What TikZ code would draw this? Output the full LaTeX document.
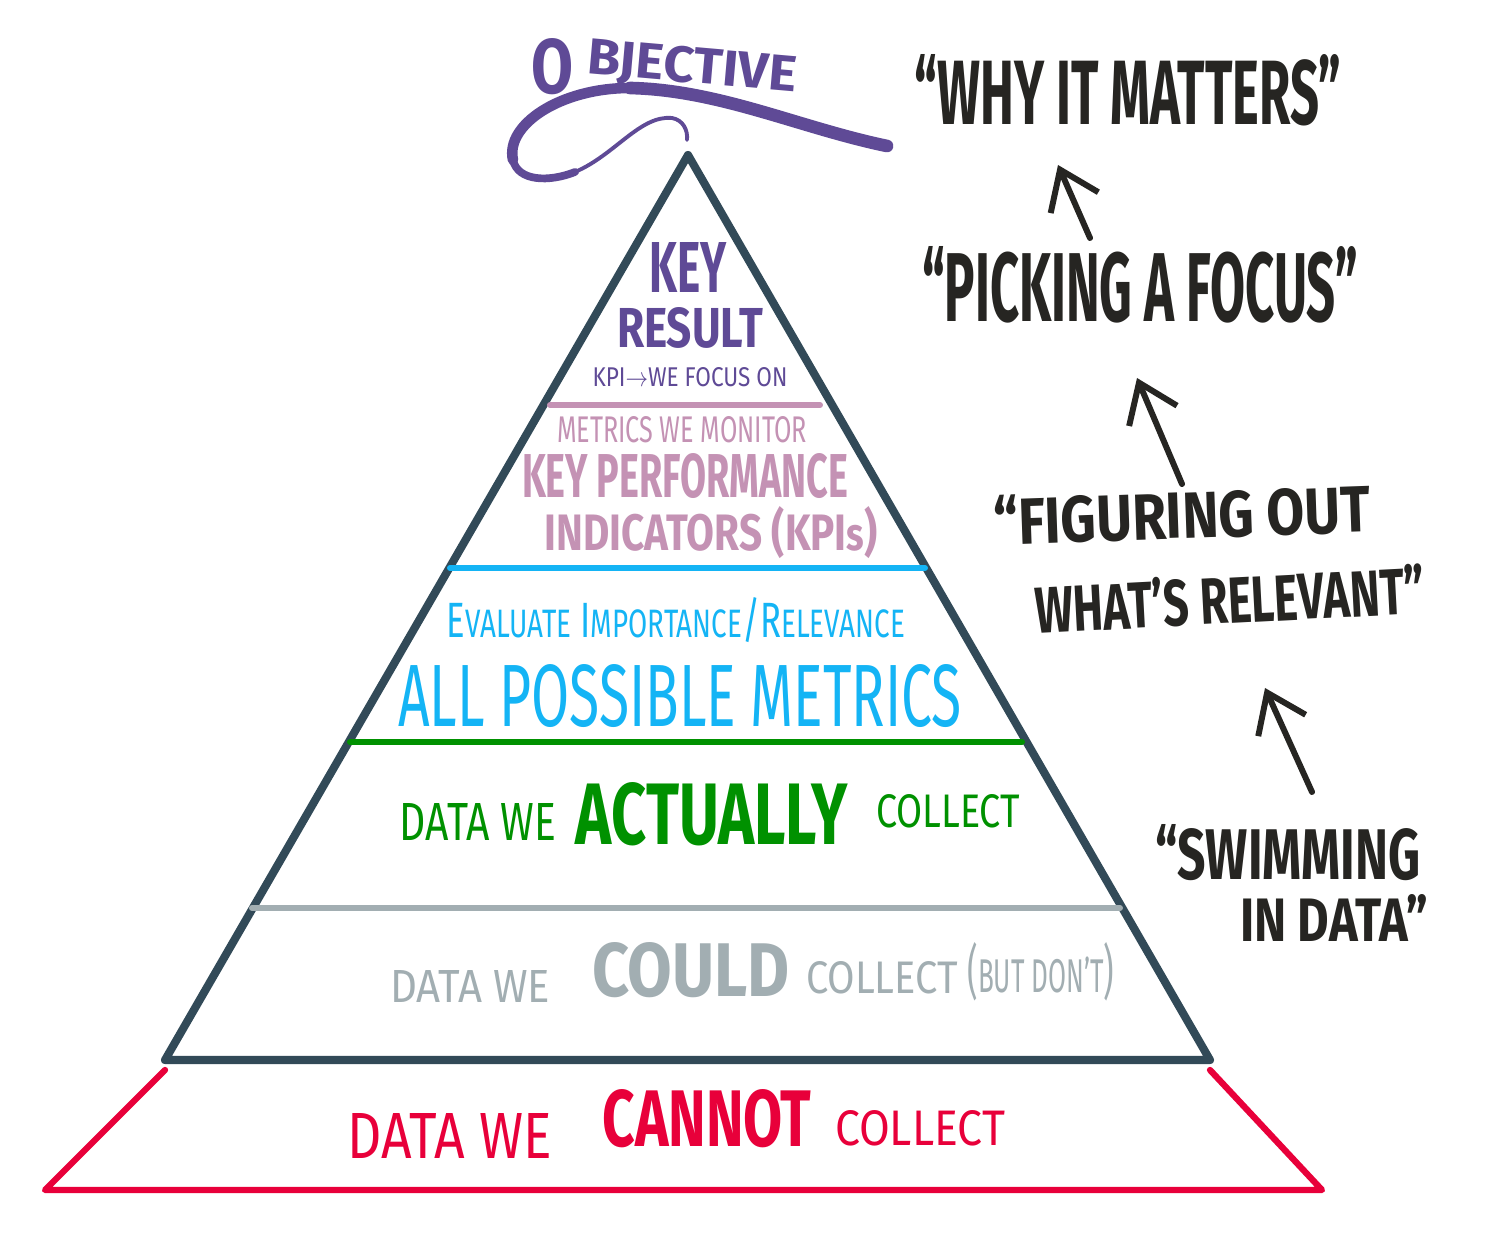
\documentclass[tikz,border=0pt]{standalone}
\usepackage{fontspec}
\setmainfont{Fira Sans}
\usetikzlibrary{arrows.meta}

\definecolor{okrpurple}{RGB}{95,74,150}
\definecolor{kpimauve}{RGB}{196,146,180}
\definecolor{metricblue}{RGB}{20,180,245}
\definecolor{datagreen}{RGB}{0,145,0}
\definecolor{couldgray}{RGB}{162,174,178}
\definecolor{cannotred}{RGB}{232,0,58}
\definecolor{pyrslate}{RGB}{50,74,88}
\definecolor{ink}{RGB}{38,37,34}

\newlength\pxu
\setlength\pxu{0.01cm}
% width, cap height (in px), text
\newcommand\handsz[3]{\resizebox{#1\pxu}{#2\pxu}{#3}}

\begin{document}
\begin{tikzpicture}[x=0.01cm,y=-0.01cm,
	lbl/.style={inner sep=0pt,outer sep=0pt},
	layer/.style={line width=1.7pt,line cap=round},
	note/.style={lbl,text=ink,font=\bfseries},
	upto/.style={ink,line width=1.7pt,line cap=round,line join=round,-{Straight Barb[length=3.6mm,width=5.2mm]}}]

	\path[use as bounding box,fill=white] (0,0) rectangle (1500,1240);

	% pyramid
	\coordinate	(apex)	at	(688,155);
	\coordinate	(bl)	at	(165,1060);
	\coordinate	(br)	at	(1210,1060);
	\draw[pyrslate,line width=2.3pt,line join=round] (apex) -- (bl) -- (br) -- cycle;

	% cannot-collect band
	\coordinate	(rtl)	at	(165,1070);
	\coordinate	(rbl)	at	(45,1190);
	\coordinate	(rbr)	at	(1322,1190);
	\coordinate	(rtr)	at	(1210,1070);
	\draw[cannotred,line width=1.8pt,line cap=round,line join=round] (rtl) -- (rbl) -- (rbr) -- (rtr);

	% layer lines
	\draw[layer,kpimauve]	(550,405) -- (820,405);
	\draw[layer,metricblue]	(450,568) -- (925,568);
	\draw[layer,datagreen]	(350,742) -- (1022,742);
	\draw[layer,couldgray]	(252,908) -- (1120,908);

	% objective swoosh
	\draw[okrpurple,line width=3.6pt,line cap=round] (887,146) .. controls (800,128) and (720,90) .. (630,88);
	\draw[okrpurple,line width=3.0pt,line cap=round] (630,88) .. controls (560,88) and (505,125) .. (513,160);
	\draw[okrpurple,line width=2.2pt,line cap=round] (513,160) .. controls (518,182) and (550,182) .. (575,172);
	\draw[okrpurple,line width=1.1pt,line cap=round] (575,172) .. controls (615,155) and (640,115) .. (672,118) .. controls (683,120) and (688,130) .. (687,140);

	\node	(objO)	at	(552,67)	[lbl,text=okrpurple,font=\bfseries]{\handsz{42}{55}{O}};
	\node	(objrest)	at	(692,69)	[lbl,text=okrpurple,font=\bfseries,rotate=-5]{\handsz{210}{36}{BJECTIVE}};

	% key result
	\node	(key)	at	(688,268)	[lbl,text=okrpurple,font=\bfseries]{\handsz{77}{50}{KEY}};
	\node	(result)	at	(690,328)	[lbl,text=okrpurple,font=\bfseries]{\handsz{146}{40}{RESULT}};
	\node	(focuson)	at	(690,377)	[lbl,text=okrpurple]{\handsz{195}{19}{KPI$\rightarrow$WE FOCUS ON}};

	% kpis
	\node	(monitor)	at	(682,430)	[lbl,text=kpimauve]{\handsz{250}{26}{METRICS WE MONITOR}};
	\node	(kpi1)	at	(685,476)	[lbl,text=kpimauve,font=\bfseries]{\handsz{326}{44}{KEY PERFORMANCE}};
	\node	(kpi2)	at	(711,533)	[lbl,text=kpimauve,font=\bfseries]{\handsz{333}{44}{INDICATORS (KPI{\small s})}};

	% all metrics
	\node	(evaluate)	at	(676,620)	[lbl,text=metricblue]{\handsz{458}{40}{E{\footnotesize VALUATE} I{\footnotesize MPORTANCE}/R{\footnotesize ELEVANCE}}};
	\node	(allmetrics)	at	(680,696)	[lbl,text=metricblue]{\handsz{564}{62}{ALL POSSIBLE METRICS}};

	% actually collect
	\node	(gdata)	at	(478,822)	[lbl,text=datagreen]{\handsz{156}{37}{DATA WE}};
	\node	(actually)	at	(712,814)	[lbl,text=datagreen,font=\bfseries]{\handsz{272}{62}{ACTUALLY}};
	\node	(gcollect)	at	(948,811)	[lbl,text=datagreen]{\handsz{144}{33}{COLLECT}};

	% could collect
	\node	(cdata)	at	(470,986)	[lbl,text=couldgray]{\handsz{160}{32}{DATA WE}};
	\node	(could)	at	(691,970)	[lbl,text=couldgray,font=\bfseries]{\handsz{198}{54}{COULD}};
	\node	(ccollect)	at	(882,978)	[lbl,text=couldgray]{\handsz{152}{32}{COLLECT}};
	\node	(butdont)	at	(1041,972)	[lbl,text=couldgray]{\handsz{147}{50}{({\footnotesize BUT DON'T})}};

	% cannot collect
	\node	(rdata)	at	(450,1136)	[lbl,text=cannotred]{\handsz{204}{45}{DATA WE}};
	\node	(cannot)	at	(707,1119)	[lbl,text=cannotred,font=\bfseries]{\handsz{209}{57}{CANNOT}};
	\node	(rcollect)	at	(920,1128)	[lbl,text=cannotred]{\handsz{170}{35}{COLLECT}};

	% right-hand notes
	\node	(matters)	at	(1128,90)	[note]{\handsz{427}{70}{“WHY IT MATTERS”}};
	\node	(picking)	at	(1140,285)	[note]{\handsz{436}{75}{“PICKING A FOCUS”}};
	\node	(figuring)	at	(1182,514)	[note,rotate=2]{\handsz{377}{50}{“FIGURING OUT}};
	\node	(relevant)	at	(1230,599)	[note,rotate=3]{\handsz{390}{50}{WHAT'S RELEVANT”}};
	\node	(swimming)	at	(1288,853)	[note]{\handsz{265}{55}{“SWIMMING}};
	\node	(indata)	at	(1334,918)	[note]{\handsz{188}{47}{IN DATA”}};

	\coordinate	(up1s)	at	(1090,238);
	\coordinate	(up1e)	at	(1058,165);
	\coordinate	(up2s)	at	(1182,484);
	\coordinate	(up2e)	at	(1137,378);
	\coordinate	(up3s)	at	(1312,792);
	\coordinate	(up3e)	at	(1265,688);
	\draw[upto]	(up1s) -- (up1e);
	\draw[upto]	(up2s) -- (up2e);
	\draw[upto]	(up3s) -- (up3e);

\end{tikzpicture}
\end{document}
